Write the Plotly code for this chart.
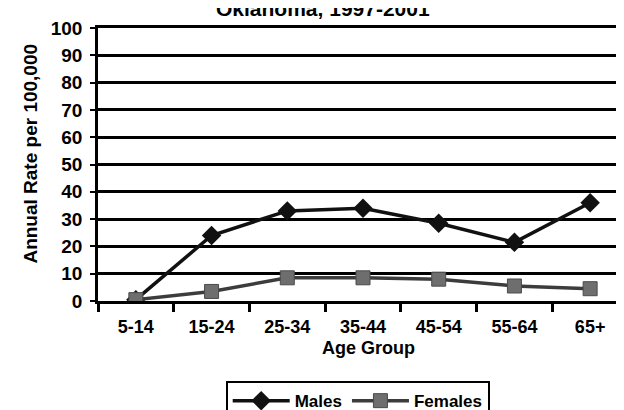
import plotly.graph_objects as go

age_groups = ["5-14", "15-24", "25-34", "35-44", "45-54", "55-64", "65+"]
males = [0.5, 24, 33, 34, 28.5, 21.5, 36]
females = [0.5, 3.5, 8.5, 8.5, 8, 5.5, 4.5]
y_ticks = [0, 10, 20, 30, 40, 50, 60, 70, 80, 90, 100]

FONT = "Liberation Sans, Arial, sans-serif"

fig = go.Figure()
fig.add_trace(go.Scatter(
    x=age_groups, y=males, name="Males", mode="lines+markers",
    line=dict(color="#111111", width=3.5),
    marker=dict(symbol="diamond", size=15, color="#111111"),
))
fig.add_trace(go.Scatter(
    x=age_groups, y=females, name="Females", mode="lines+markers",
    line=dict(color="#3c3c3c", width=3.5),
    marker=dict(symbol="square", size=14, color="#6e6e6e", line=dict(color="#4a4a4a", width=1)),
))

fig.update_layout(
    width=624, height=410,
    margin=dict(l=90, r=4, t=20, b=117),
    paper_bgcolor="white", plot_bgcolor="white",
    font=dict(family=FONT, size=15, color="black"),
    showlegend=True,
    legend=dict(
        orientation="h", x=0.49, y=0.09, xref="paper", yref="container",
        xanchor="center", yanchor="top",
        bordercolor="black", borderwidth=2,
        font=dict(family=FONT, size=17, color="black", weight="bold"),
        itemwidth=57,
    ),
    xaxis=dict(
        type="category", range=[-0.5, 6.5], automargin=False,
        showline=True, linecolor="black", linewidth=2.5, mirror=True,
        ticks="outside", tickson="boundaries", ticklen=8, tickwidth=2.5, tickcolor="black",
        ticklabelstandoff=8,
        showgrid=False,
        tickfont=dict(family=FONT, size=18, color="black", weight="bold"),
    ),
    yaxis=dict(
        range=[0, 100], tickvals=y_ticks, automargin=False,
        showline=True, linecolor="black", linewidth=2.5,
        showgrid=True, gridcolor="black", gridwidth=2.5,
        ticks="outside", ticklen=5, tickwidth=2, tickcolor="black",
        ticklabelstandoff=4,
        zeroline=False,
        tickfont=dict(family=FONT, size=19, color="black", weight="bold"),
    ),
    annotations=[
        dict(text="Annual Rate per 100,000", xref="paper", yref="paper",
             x=-0.1264, y=0.54, xanchor="center", yanchor="middle", textangle=-90,
             showarrow=False,
             font=dict(family=FONT, size=19, color="black", weight="bold")),
        dict(text="Age Group", xref="paper", yref="paper", x=0.511, y=-0.172,
             xanchor="center", yanchor="middle", showarrow=False,
             font=dict(family=FONT, size=18, color="black", weight="bold")),
        dict(text="Oklahoma, 1997-2001", xref="paper", yref="paper", x=0.4245, y=1.07,
             xanchor="center", yanchor="middle", showarrow=False,
             font=dict(family=FONT, size=21, color="black", weight="bold")),
    ],
)

fig.write_html("out.html")
